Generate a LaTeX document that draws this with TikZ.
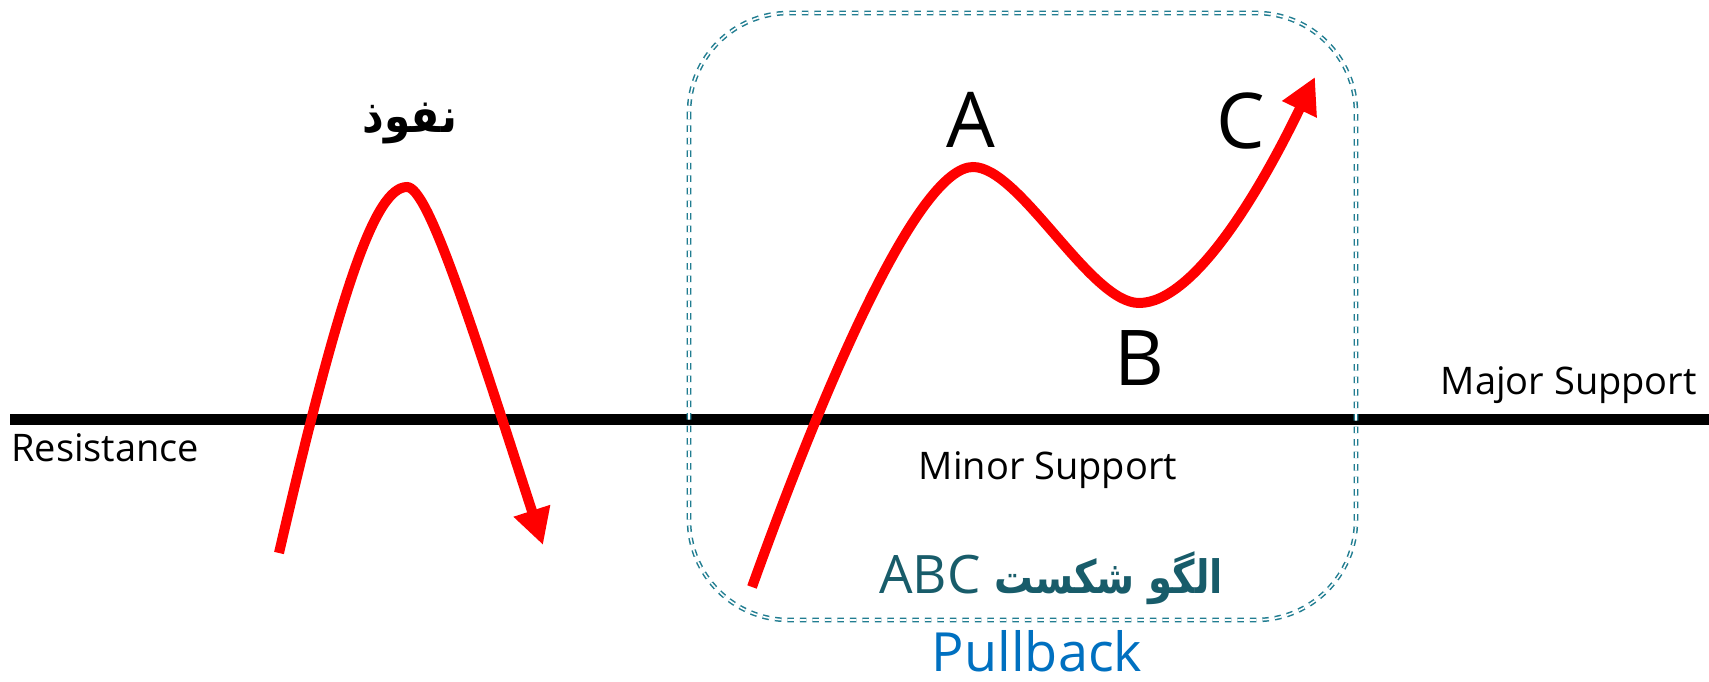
\documentclass[tikz,border=0pt]{standalone}
\usepackage{fontspec}
\usepackage{graphicx}
\setmainfont{Open Sans}
\newfontfamily\farsi[Script=Arabic]{DejaVu Sans}
\TeXXeTstate=1
\usetikzlibrary{arrows.meta, positioning}

\definecolor{boxteal}{RGB}{33,125,145}
\definecolor{abcteal}{RGB}{24,92,106}
\definecolor{pullblue}{RGB}{0,112,192}

\begin{document}
\begin{tikzpicture}[
    x=1pt, y=-1pt,
    trend/.style={draw=red, line width=10pt,
                  -{Triangle[length=36pt, width=36pt]}},
    level/.style={draw=black, line width=11pt},
    lbl/.style={inner sep=0pt, font=\fontsize{38}{42}\selectfont},
    wavept/.style={inner sep=0pt, font=\fontsize{77}{80}\selectfont},
    pullbox/.style={draw=boxteal, double, double distance=1.6pt,
                    line width=1.5pt, dash pattern=on 6.5pt off 6pt,
                    rounded corners=100pt}
  ]
  \useasboundingbox (0,0) rectangle (1709,682);

  % support / resistance level
  \coordinate (lineL) at (10,419);
  \coordinate (lineR) at (1709,419);
  \draw[level] (lineL) -- (lineR);

  \node[lbl, anchor=base west] (res) at (11,461) {Resistance};
  \node[lbl, anchor=base east] (major) at (1697,394) {Major Support};
  \node[lbl, anchor=base] (minor) at (1048,479) {Minor Support};

  % pullback frame
  \draw[pullbox] (689,13) rectangle (1356,620);
  \node[lbl, font=\fontsize{54}{58}\selectfont, text=pullblue,
        anchor=base] (pull) at (1037,671) {Pullback};
  \node[lbl, font=\fontsize{53}{56}\selectfont, text=abcteal,
        anchor=base] (abc) at (1051,593)
    {ABC \scalebox{0.84}[1]{\farsi\bfseries\fontsize{46}{50}\selectfont
      \beginR الگو شکست\endR}};

  % fake breakout
  \coordinate (l0) at (279,553);
  \coordinate (lpeak) at (407,187);
  \coordinate (ltip) at (543,545);
  \draw[trend] (l0) .. controls (340,290) and (375,187) .. (lpeak)
               .. controls (428,187) and (470,320) .. (ltip);
  \node[inner sep=0pt] (nofuz) at (410,123)
    {\scalebox{0.9}[1]{\farsi\bfseries\fontsize{47}{50}\selectfont
      \beginR نفوذ\endR}};

  % ABC wave
  \coordinate (r0) at (752,587);
  \coordinate (ptA) at (973,167);
  \coordinate (ptB) at (1139,303);
  \coordinate (rtip) at (1315,77);
  \draw[trend] (r0) .. controls (830,370) and (920,167) .. (ptA)
               .. controls (1020,167) and (1090,303) .. (ptB)
               .. controls (1195,303) and (1262,187) .. (rtip);
  \node[wavept, anchor=base] (lblA) at (971,148) {A};
  \node[wavept, anchor=base] (lblB) at (1139,385) {B};
  \node[wavept, anchor=base] (lblC) at (1241,149) {C};
\end{tikzpicture}
\end{document}
